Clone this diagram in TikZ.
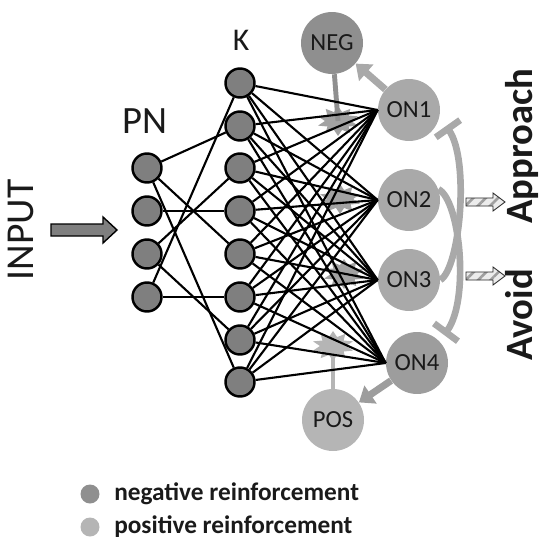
\documentclass[tikz,border=0pt]{standalone}
\usepackage{fontspec}
\setmainfont{Carlito}
\usepackage{tikz}
\usepackage{xcolor}
\usetikzlibrary{arrows.meta,calc,positioning,patterns,patterns.meta,shapes.geometric}
\definecolor{Net_Dark}{HTML}{7F7F7F}
\definecolor{Net_Neg}{HTML}{8F8F8F}
\definecolor{Net_ON}{HTML}{A9A9A9}
\definecolor{Net_ON4}{HTML}{9D9D9D}
\definecolor{Net_Pos}{HTML}{B5B5B5}
\definecolor{Net_Link}{HTML}{A2A2A2}
\definecolor{Net_Text}{HTML}{1A1A1A}

\tikzset{
    cell/.style={circle, draw=black, line width=1.4pt, fill=Net_Dark, minimum size=0.58cm, inner sep=0pt},
    outcell/.style={circle, fill=Net_ON, minimum size=1.24cm, inner sep=0pt, text=Net_Text, font=\fontsize{14}{14}\selectfont},
    synapse/.style={line width=1.2pt, black},
    modline/.style={line width=2.8pt, Net_Link},
    burst/.style={star, star points=10, star point ratio=1.6, fill=Net_Link, minimum size=0.6cm, inner sep=0pt, xscale=1.4},
    inhib/.style={line width=3.8pt, Net_ON, -{Bar[width=17pt]}},
    fatarrow/.style={line width=4pt, Net_ON, -{Triangle[width=12pt,length=8pt]}},
    legdot/.style={circle, minimum size=0.38cm, inner sep=0pt},
    legtext/.style={font=\fontsize{14.4}{16}\selectfont\bfseries, text=Net_Text, inner sep=0pt},
    hatcharrow/.style={draw=black!85, line width=0.5pt, preaction={fill=gray!15}, pattern={Lines[angle=45, distance=5pt, line width=1.5pt]}, pattern color=gray!75},
}

\begin{document}
\begin{tikzpicture}[>=Stealth, x=0.02cm, y=-0.02cm]
    \useasboundingbox (0,0) rectangle (550,547);

    % Input arrow and label
    \node[rotate=90, anchor=base, text=Net_Text, font=\fontsize{22.5}{24}\selectfont] (input) at (33,230) {INPUT};
    \draw[fill=Net_Dark, draw=black, line width=0.8pt]
        (51,224) -- (103,224) -- (103,217) -- (117,230) -- (103,243) -- (103,236) -- (51,236) -- cycle;

    % Layer titles
    \node[text=Net_Text, font=\fontsize{22}{24}\selectfont] (pnlabel) at (145,121) {PN};
    \node[text=Net_Text, font=\fontsize{18}{20}\selectfont] (klabel) at (241,40) {K};

    % PN and K layers
    \foreach \i/\y in {1/168,2/211,3/254,4/297}
        \node[cell] (pn\i) at (147,\y) {};
    \foreach \i/\y in {1/83,2/126,3/168,4/211,5/254,6/297,7/340,8/382}
        \node[cell] (k\i) at (240,\y) {};

    % Output neurons and reinforcement neurons
    \node[outcell] (on1) at (409,110) {ON1};
    \node[outcell] (on2) at (409,200) {ON2};
    \node[outcell] (on3) at (409,280) {ON3};
    \node[outcell, fill=Net_ON4] (on4) at (417,363) {ON4};
    \node[outcell, fill=Net_Neg] (neg) at (332,43) {NEG};
    \node[outcell, fill=Net_Pos] (pos) at (333,420) {POS};

    % Modulatory input onto the K-ON synapses
    \node[burst] (burst1) at (338,121) {};
    \node[burst] (burst2) at (340,199) {};
    \node[burst] (burst3) at (344,274) {};
    \node[burst, fill=Net_Pos] (burst4) at (333,346) {};
    \draw[modline, Net_Neg] (neg) -- (burst1.center);
    \draw[modline, Net_Pos] (pos) -- (burst4.center);

    % PN -> K (sparse)
    \foreach \a/\b in {1/2,1/5,1/8,2/4,3/3,3/7,4/1,4/6}
        \draw[synapse] (pn\a) -- (k\b);

    % K -> ON (all to all)
    \foreach \i in {1,...,8}
        \foreach \j in {1,...,4}
            \draw[synapse] (k\i) -- (on\j.west);

    % Feedback to NEG and POS
    \draw[fatarrow] (on1) -- (neg);
    \draw[fatarrow, Net_ON4] (on4) -- (pos);

    % Mutual inhibition
    \coordinate (bar1) at (446,126);
    \coordinate (bar4) at (444,335);
    \draw[inhib] (on2.20) .. controls (460,200) and (470,300) .. (bar4);
    \draw[inhib] (on3.east) .. controls (460,268) and (470,160) .. (bar1);

    % Behaviour outputs
    \foreach \y in {202,276}
        \draw[hatcharrow] (466,\y-4) -- (493,\y-4) -- (493,\y-9) -- (505,\y) -- (493,\y+9) -- (493,\y+4) -- (466,\y+4) -- cycle;
    \node[rotate=90, anchor=base, text=Net_Text, font=\fontsize{22}{24}\selectfont\bfseries] (approach) at (532,146) {Approach};
    \node[rotate=90, anchor=base, text=Net_Text, font=\fontsize{22}{24}\selectfont\bfseries] (avoid) at (532,315) {Avoid};

    % Legend
    \node[legdot, fill=Net_Neg] (negdot) at (90,494) {};
    \node[legtext, right=8pt of negdot] (negtext) {negative reinforcement};
    \node[legdot, fill=Net_Pos] (posdot) at (90,527) {};
    \node[legtext, right=8pt of posdot] (postext) {positive reinforcement};

\end{tikzpicture}
\end{document}
